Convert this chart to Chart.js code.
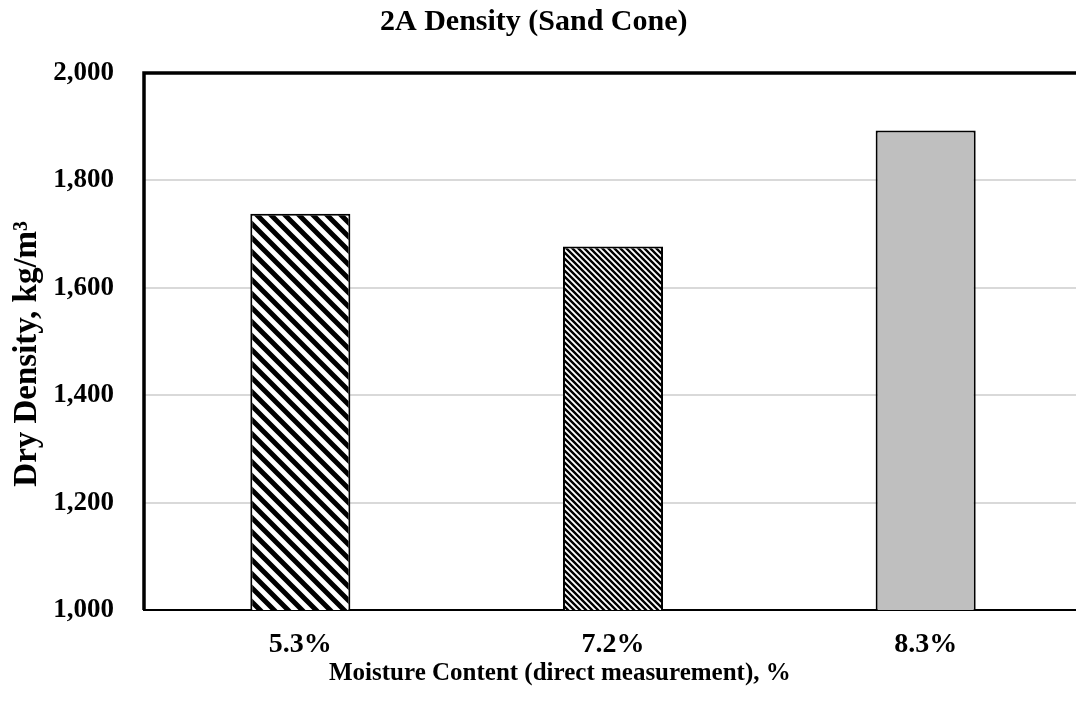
<!DOCTYPE html>
<html>
<head>
<meta charset="utf-8">
<script src="https://cdn.jsdelivr.net/npm/chart.js@4.4.1/dist/chart.umd.min.js"></script>
<style>
  body { margin: 0; background: #ffffff; overflow: hidden; }
  #wrap { width: 1082px; height: 721px; }
</style>
</head>
<body>
<div id="wrap"><canvas id="chart" width="1082" height="721"></canvas></div>
<script>
// chart data
const categories = ["5.3%", "7.2%", "8.3%"];
const dryDensity = [1738, 1677, 1893];
const yTicks = [1000, 1200, 1400, 1600, 1800, 2000];

// stripe patterns like the excel fills
function stripePattern(size, lineW) {
  const c = document.createElement("canvas");
  c.width = size;
  c.height = size;
  const ctx = c.getContext("2d");
  ctx.fillStyle = "#ffffff";
  ctx.fillRect(0, 0, size, size);
  ctx.strokeStyle = "#000000";
  ctx.lineWidth = lineW;
  ctx.beginPath();
  ctx.moveTo(-size, -size); ctx.lineTo(2 * size, 2 * size);
  ctx.moveTo(-size, 0); ctx.lineTo(size, 2 * size);
  ctx.moveTo(0, -size); ctx.lineTo(2 * size, size);
  ctx.stroke();
  return ctx.createPattern(c, "repeat");
}

const fills = [stripePattern(14, 5), stripePattern(6, 2.4), "#bfbfbf"];

const serif = "'Liberation Serif', 'Times New Roman', serif";
// trailing no-break spaces nudge centred titles the way the excel ones sit
const pad = n => "\u00a0".repeat(n);

const framePlugin = {
  id: "frame",
  afterDraw(chart) {
    const { ctx, chartArea } = chart;
    ctx.save();
    ctx.strokeStyle = "#000000";
    ctx.lineWidth = 3.5;
    ctx.beginPath();
    ctx.moveTo(chartArea.left, chartArea.bottom);
    ctx.lineTo(chartArea.left, chartArea.top);
    ctx.lineTo(chartArea.right + 5, chartArea.top);
    ctx.stroke();
    ctx.restore();
  }
};

new Chart("chart", {
  type: "bar",
  data: {
    labels: categories,
    datasets: [{
      data: dryDensity,
      backgroundColor: fills,
      borderColor: "#000000",
      borderWidth: 2,
      borderSkipped: "bottom",
      barPercentage: 0.32,
      categoryPercentage: 1
    }]
  },
  options: {
    responsive: false,
    animation: false,
    layout: { padding: { top: 0, right: 0, left: 8, bottom: 0 } },
    plugins: {
      legend: { display: false },
      tooltip: { enabled: false },
      title: {
        display: true,
        text: "2A Density (Sand Cone)" + pad(3),
        color: "#000000",
        font: { family: serif, size: 30, weight: "bold" },
        padding: { top: 4, bottom: 33 }
      }
    },
    scales: {
      x: {
        afterFit(scale) { scale.height = 111; },
        grid: { display: false, drawTicks: false },
        border: { color: "#000000", width: 2 },
        ticks: {
          color: "#000000",
          padding: 21,
          font: { family: serif, size: 28, weight: "bold", lineHeight: 1 }
        },
        title: {
          display: true,
          text: "Moisture Content (direct measurement), %" + pad(17),
          color: "#000000",
          font: { family: serif, size: 25, weight: "bold", lineHeight: 1 },
          padding: { top: 0, bottom: 35 }
        }
      },
      y: {
        min: 1000,
        max: 2000,
        afterBuildTicks(axis) {
          axis.ticks = yTicks.map(v => ({ value: v }));
        },
        afterFit(scale) { scale.width = 136; },
        grid: { color: "#d9d9d9", lineWidth: 2, drawTicks: false },
        border: { display: false },
        ticks: {
          color: "#000000",
          padding: 30,
          font: { family: serif, size: 27, weight: "bold" },
          callback: v => v.toLocaleString("en-US")
        },
        title: {
          display: true,
          text: "Dry Density, kg/m³" + pad(3),
          color: "#000000",
          font: { family: serif, size: 33, weight: "bold" },
          padding: { top: 0, bottom: 0 }
        }
      }
    }
  },
  plugins: [framePlugin]
});
</script>
</body>
</html>
